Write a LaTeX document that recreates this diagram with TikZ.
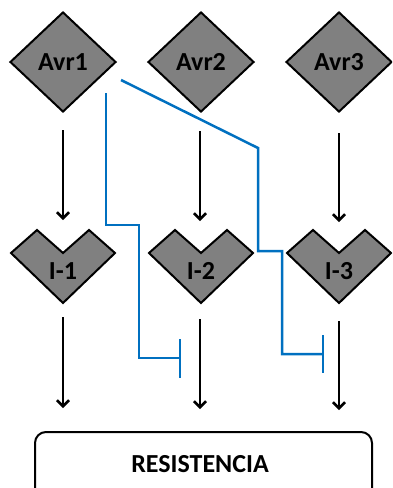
\documentclass[tikz,border=0pt]{standalone}
\usepackage{fontspec}
\setmainfont{Carlito}
\usetikzlibrary{shapes.geometric,arrows.meta}
\definecolor{avrgray}{HTML}{808080}
\definecolor{inhblue}{HTML}{0070C0}
\tikzset{
  avr/.style={shape=diamond,draw=black,line width=2pt,fill=avrgray,minimum width=106pt,minimum height=100pt,inner sep=0pt,font=\fontsize{26}{28}\selectfont\bfseries},
  chev/.style={draw=black,line width=2pt,fill=avrgray,line join=miter},
  ilabel/.style={inner sep=0pt,font=\fontsize{26}{28}\selectfont\bfseries},
  act/.style={line width=2.5pt,-{Straight Barb[length=6pt,width=12pt,line width=2.5pt]}},
  inh/.style={draw=inhblue,line width=2.5pt},
  resbox/.style={draw=black,line width=2pt,rounded corners=11pt,minimum width=337pt,minimum height=70pt,inner sep=0pt}
}
\begin{document}
\begin{tikzpicture}[x=1pt,y=-1pt]
\useasboundingbox (0,0) rectangle (392,488);
\clip (0,0) rectangle (392,488);
% Avr diamonds
\node[avr] (avr1) at (63,62) {Avr1};
\node[avr] (avr2) at (201,62) {Avr2};
\node[avr] (avr3) at (339,62) {Avr3};
% chevrons
\foreach \cx/\n in {63/1,201/2,339/3}{
  \draw[chev] (\cx-52,253) -- (\cx-26,230) -- (\cx,253) -- (\cx+26,230) -- (\cx+52,253) -- (\cx,303) -- cycle;
}
\node[ilabel] (i1) at (63,271) {I-1};
\node[ilabel] (i2) at (201,271) {I-2};
\node[ilabel] (i3) at (339,271) {I-3};
% result box
\node[resbox] (res) at (203.5,467) {};
\node[font=\fontsize{26}{28}\selectfont\bfseries,inner sep=0pt] (restext) at (200,464) {RESISTENCIA};
% arrow coordinates
\coordinate (a1s) at (63,130);  \coordinate (a1e) at (63,220);
\coordinate (a2s) at (200,131); \coordinate (a2e) at (200,221);
\coordinate (a3s) at (339,133); \coordinate (a3e) at (339,222);
\coordinate (b1s) at (63,317);  \coordinate (b1e) at (63,408);
\coordinate (b2s) at (200,319); \coordinate (b2e) at (200,409);
\coordinate (b3s) at (339,321); \coordinate (b3e) at (339,410);
\foreach \s/\e in {a1s/a1e,a2s/a2e,a3s/a3e,b1s/b1e,b2s/b2e,b3s/b3e}{
  \draw[act] (\s) -- (\e);
}
% inhibition lines
\coordinate (p1s) at (106,93);
\coordinate (p1e) at (180,358);
\coordinate (t1a) at (180,339);
\coordinate (t1b) at (180,378);
\draw[inh] (p1s) -- (106,225) -- (139,225) -- (139,358) -- (p1e);
\draw[inh] (t1a) -- (t1b);
\coordinate (p2s) at (121,80);
\coordinate (p2e) at (323,354);
\coordinate (t2a) at (323,335);
\coordinate (t2b) at (323,373);
\draw[inh] (p2s) -- (258,148) -- (258,251) -- (282,251) -- (282,354) -- (p2e);
\draw[inh] (t2a) -- (t2b);
\end{tikzpicture}
\end{document}
